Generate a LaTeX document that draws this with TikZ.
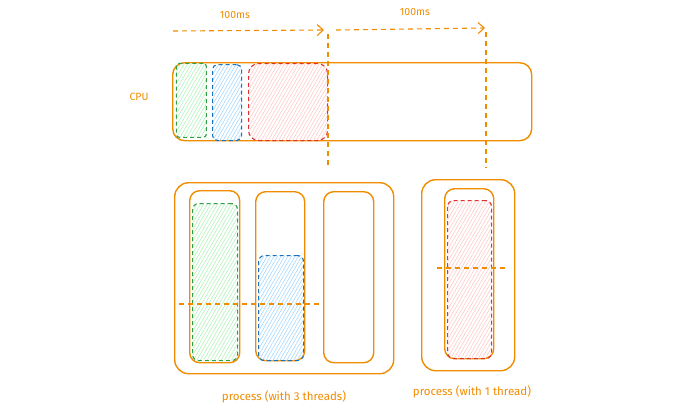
\documentclass[tikz,border=0pt]{standalone}
\usepackage{fontspec}
\setmainfont{Fira Sans}
\usetikzlibrary{arrows.meta,patterns.meta}
\definecolor{exorange}{HTML}{F08C00}
\definecolor{exgreen}{HTML}{2F9E44}
\definecolor{exgreenf}{HTML}{B2F2BB}
\definecolor{exblue}{HTML}{1971C2}
\definecolor{exbluef}{HTML}{A5D8FF}
\definecolor{exred}{HTML}{E03131}
\definecolor{exredf}{HTML}{FFC9C9}
\tikzset{
  obox/.style={draw=exorange, line width=1.4pt, rounded corners=#1, inner sep=0pt, anchor=north west},
  obox/.default=10pt,
  hbox/.style n args={3}{draw=#1, dashed, dash pattern=on 4pt off 3pt, line width=1.1pt, rounded corners=#3, inner sep=0pt, anchor=north west,
     pattern={Lines[angle=60,distance=3pt,line width=0.6pt]}, pattern color=#2},
  guide/.style={draw=exorange, line width=1.1pt, dash pattern=on 5pt off 4pt},
  timearrow/.style={guide, -{Straight Barb[length=6pt,width=11pt,line width=1.1pt]}},
  lbl/.style={text=exorange, font=\fontsize{10.5}{12}\selectfont, inner sep=0pt},
  biglbl/.style={lbl, font=\fontsize{11.5}{13}\selectfont}
}
\begin{document}
\begin{tikzpicture}[x=1pt,y=-1pt]
\useasboundingbox (0,0) rectangle (700,413);
% labels
\node[lbl] (t1) at (235,15) {100ms};
\node[lbl] (t2) at (415,12) {100ms};
\node[lbl] (cpulbl) at (139,97) {CPU};
\node[biglbl] (p3lbl) at (284,397) {process (with 3 threads)};
\node[biglbl] (p1lbl) at (472,392) {process (with 1 thread)};
% CPU timeline
\node[obox=12pt, minimum width=359pt, minimum height=78pt] (cpu) at (172,62) {};
\node[hbox={exgreen}{exgreenf}{3pt}, minimum width=30pt, minimum height=74pt] (cg) at (176,63) {};
\node[hbox={exblue}{exbluef}{5pt}, minimum width=29pt, minimum height=76pt] (cb) at (212,64) {};
\node[hbox={exred}{exredf}{10pt}, minimum width=79pt, minimum height=77pt] (cr) at (248,63) {};
% time arrows
\coordinate (a1s) at (173,31);
\coordinate (a1e) at (324,30);
\coordinate (a2s) at (336,30);
\coordinate (a2e) at (485,28);
\draw[timearrow] (a1s) -- (a1e);
\draw[timearrow] (a2s) -- (a2e);
\coordinate (v1s) at (328,34);
\coordinate (v1e) at (328,168);
\coordinate (v2s) at (486,32);
\coordinate (v2e) at (486,168);
\draw[guide] (v1s) -- (v1e);
\draw[guide] (v2s) -- (v2e);
% process with 3 threads
\node[obox=14pt, minimum width=219pt, minimum height=191pt] (p3) at (174,182) {};
\node[obox=10pt, minimum width=50pt, minimum height=172pt] (th1) at (189,190) {};
\node[obox=10pt, minimum width=49pt, minimum height=169pt] (th2) at (255,191) {};
\node[obox=10pt, minimum width=50pt, minimum height=171pt] (th3) at (323,191) {};
\node[hbox={exgreen}{exgreenf}{6pt}, minimum width=45pt, minimum height=157pt] (tg) at (192,203) {};
\node[hbox={exblue}{exbluef}{6pt}, minimum width=45pt, minimum height=105pt] (tb) at (258,255) {};
\coordinate (h1s) at (179,304);
\coordinate (h1e) at (322,304);
\draw[guide] (h1s) -- (h1e);
% process with 1 thread
\node[obox=14pt, minimum width=93pt, minimum height=191pt] (p1) at (421,179) {};
\node[obox=10pt, minimum width=49pt, minimum height=170pt] (th4) at (444,188) {};
\node[hbox={exred}{exredf}{6pt}, minimum width=44pt, minimum height=158pt] (tr) at (447,200) {};
\coordinate (h2s) at (437,268);
\coordinate (h2e) at (505,268);
\draw[guide] (h2s) -- (h2e);
\end{tikzpicture}
\end{document}
